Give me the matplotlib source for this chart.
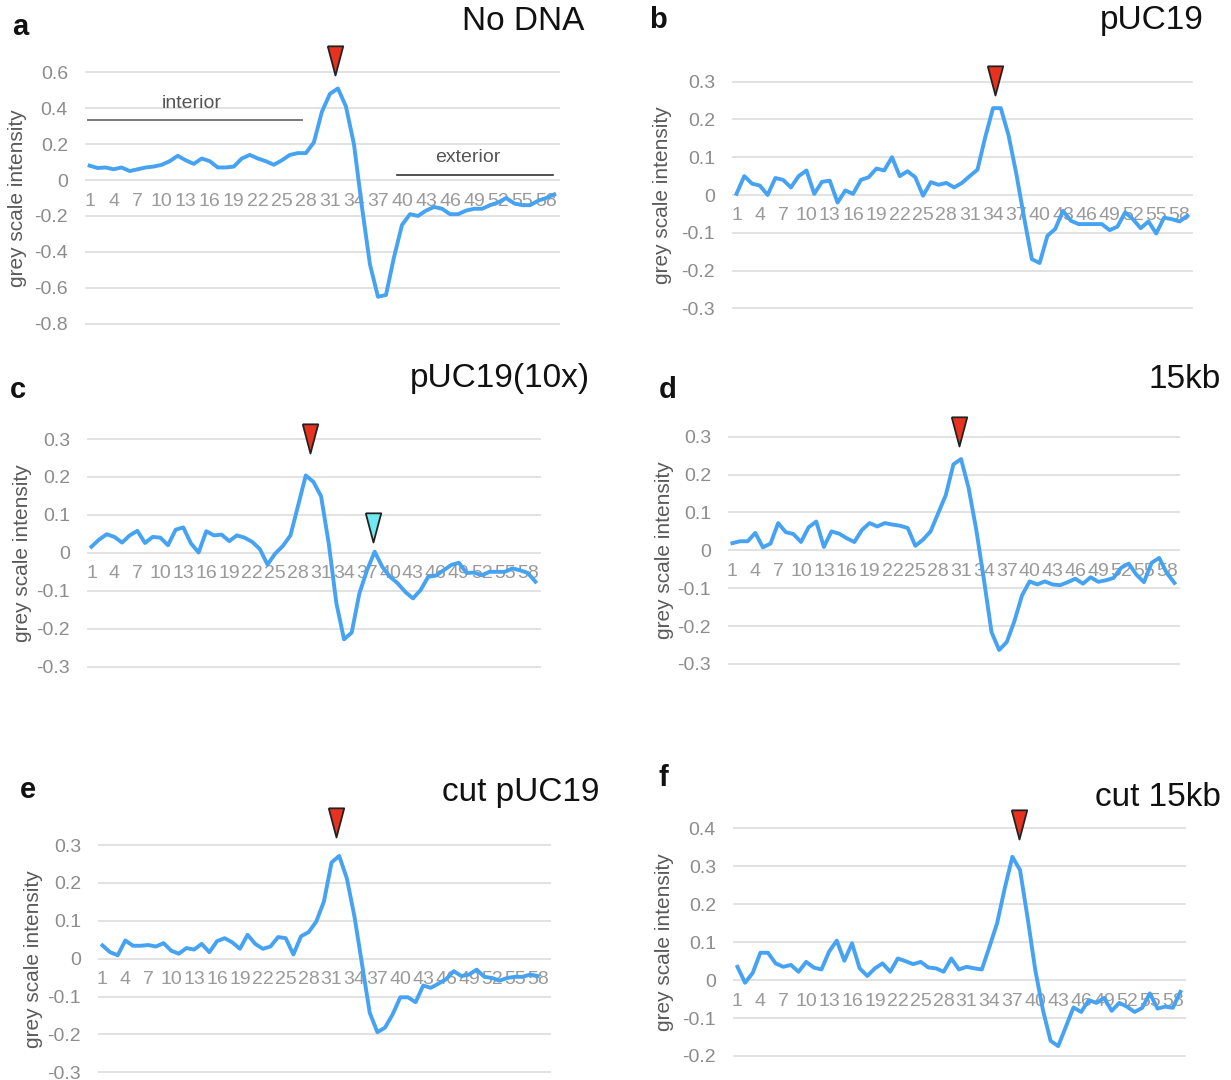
import matplotlib
matplotlib.use('Agg')
import matplotlib.pyplot as plt
import numpy as np

# perfiles de intensidad (59 posiciones, "cut pUC19" tiene 58)
no_dna = [0.08, 0.067, 0.07, 0.06, 0.07, 0.05, 0.06, 0.07, 0.075, 0.085,
          0.105, 0.135, 0.11, 0.09, 0.12, 0.105, 0.07, 0.07, 0.075, 0.12,
          0.14, 0.12, 0.105, 0.085, 0.11, 0.14, 0.15, 0.15, 0.21, 0.38,
          0.48, 0.51, 0.41, 0.2, -0.15, -0.47, -0.65, -0.64, -0.43, -0.25,
          -0.19, -0.2, -0.17, -0.15, -0.16, -0.19, -0.19, -0.17, -0.16, -0.16,
          -0.14, -0.125, -0.10, -0.13, -0.14, -0.14, -0.115, -0.10, -0.08]
puc19 = [0.003, 0.05, 0.03, 0.025, 0.0, 0.045, 0.04, 0.02, 0.05, 0.065,
         0.003, 0.035, 0.038, -0.02, 0.012, 0.003, 0.04, 0.047, 0.07, 0.065,
         0.1, 0.05, 0.063, 0.047, -0.002, 0.034, 0.027, 0.032, 0.02, 0.032,
         0.05, 0.067, 0.153, 0.23, 0.23, 0.158, 0.056, -0.06, -0.17, -0.18,
         -0.108, -0.09, -0.042, -0.068, -0.077, -0.077, -0.077, -0.077, -0.093, -0.084,
         -0.046, -0.064, -0.088, -0.07, -0.102, -0.06, -0.064, -0.07, -0.055]
puc19_10x = [0.016, 0.035, 0.049, 0.042, 0.027, 0.046, 0.058, 0.026, 0.042, 0.04,
             0.02, 0.061, 0.067, 0.025, 0.001, 0.057, 0.046, 0.048, 0.031, 0.046,
             0.04, 0.029, 0.01, -0.031, -0.002, 0.018, 0.046, 0.125, 0.204, 0.187,
             0.149, 0.025, -0.133, -0.228, -0.21, -0.107, -0.046, 0.003, -0.037, -0.063,
             -0.08, -0.103, -0.12, -0.098, -0.063, -0.06, -0.046, -0.032, -0.026, -0.053,
             -0.052, -0.059, -0.05, -0.05, -0.05, -0.041, -0.046, -0.053, -0.076]
kb15 = [0.019, 0.024, 0.024, 0.046, 0.008, 0.018, 0.072, 0.048, 0.043, 0.022,
        0.061, 0.076, 0.009, 0.05, 0.044, 0.032, 0.022, 0.054, 0.072, 0.063,
        0.072, 0.068, 0.065, 0.059, 0.012, 0.028, 0.05, 0.098, 0.146, 0.227,
        0.241, 0.164, 0.054, -0.077, -0.216, -0.263, -0.242, -0.187, -0.119, -0.082,
        -0.09, -0.082, -0.09, -0.092, -0.084, -0.075, -0.088, -0.071, -0.083, -0.079,
        -0.073, -0.046, -0.035, -0.064, -0.084, -0.033, -0.02, -0.06, -0.086]
cut_puc19 = [0.035, 0.017, 0.009, 0.048, 0.034, 0.034, 0.036, 0.032, 0.041, 0.021,
             0.013, 0.028, 0.024, 0.039, 0.017, 0.046, 0.054, 0.043, 0.026, 0.063,
             0.039, 0.026, 0.032, 0.057, 0.054, 0.011, 0.059, 0.07, 0.098, 0.151,
             0.254, 0.271, 0.212, 0.111, -0.016, -0.143, -0.194, -0.182, -0.147, -0.102,
             -0.102, -0.115, -0.071, -0.077, -0.066, -0.054, -0.033, -0.046, -0.042, -0.029,
             -0.048, -0.051, -0.058, -0.051, -0.048, -0.048, -0.042, -0.046]
cut_15kb = [0.035, -0.007, 0.019, 0.072, 0.072, 0.044, 0.035, 0.04, 0.022, 0.048,
            0.033, 0.028, 0.075, 0.104, 0.051, 0.097, 0.031, 0.011, 0.031, 0.044,
            0.022, 0.057, 0.05, 0.042, 0.048, 0.033, 0.031, 0.022, 0.057, 0.028,
            0.035, 0.031, 0.028, 0.088, 0.15, 0.242, 0.325, 0.29, 0.163, 0.026,
            -0.079, -0.16, -0.174, -0.123, -0.072, -0.084, -0.053, -0.06, -0.047, -0.081,
            -0.06, -0.07, -0.084, -0.073, -0.035, -0.075, -0.07, -0.073, -0.031]

titles = ['No DNA', 'pUC19', 'pUC19(10x)', '15kb', 'cut pUC19', 'cut 15kb']
letters = ['a', 'b', 'c', 'd', 'e', 'f']
x_tick_pos = list(range(1, 59, 3))
yticks_a = [-0.8, -0.6, -0.4, -0.2, 0, 0.2, 0.4, 0.6]
yticks_03 = [-0.3, -0.2, -0.1, 0, 0.1, 0.2, 0.3]
yticks_f = [-0.2, -0.1, 0, 0.1, 0.2, 0.3, 0.4]

# flechas (posicion x, punta y, color)
arrows = [
    [(31.6, 0.585, '#E8321F')],
    [(34.3, 0.266, '#E8321F')],
    [(29.6, 0.263, '#E8321F'), (37.8, 0.029, '#6FEAF2')],
    [(30.7, 0.275, '#E8321F')],
    [(31.6, 0.32, '#E8321F')],
    [(37.8, 0.371, '#E8321F')],
]

plt.rcParams['font.family'] = ['Liberation Sans', 'DejaVu Sans']
plt.rcParams['axes.unicode_minus'] = False

W, H = 1231, 1080
fig = plt.figure(figsize=(W / 100, H / 100), dpi=100)

LINE = '#46A2F2'
TRI = [(-0.53, 2.0), (0.53, 2.0), (0.0, 0.0), (-0.53, 2.0)]


def ftext(x, y, s, **kw):
    fig.text(x / W, 1 - y / H, s, **kw)


def panel(data, rect, yticks, ylab_dx):
    left, right, top, bottom = rect
    ax = fig.add_axes([left / W, 1 - bottom / H, (right - left) / W, (bottom - top) / H])
    x = np.arange(1, len(data) + 1)
    ax.plot(x, data, color=LINE, lw=2.8, solid_joinstyle='round', zorder=3, clip_on=False)
    ax.set_xlim(0.55, 59.6)
    ax.set_ylim(yticks[0], yticks[-1])
    for v in yticks:
        ax.axhline(v, color='#E2E2E2', lw=1.4, zorder=1, clip_on=False)
    ax.set_yticks(yticks)
    ax.set_yticklabels([f'{v:g}' for v in yticks])
    ax.set_xticks(x_tick_pos)
    ax.set_xticklabels([str(t) for t in x_tick_pos])
    for s in ['top', 'right', 'left', 'bottom']:
        ax.spines[s].set_visible(False)
    ax.spines['bottom'].set_position(('data', 0))
    ax.tick_params(axis='x', length=0, pad=9, labelsize=14, labelcolor='#9A9A9A')
    ax.tick_params(axis='y', length=0, pad=13, labelsize=14, labelcolor='#8C8C8C')
    ax.set_ylabel('grey scale intensity', fontsize=15, color='#5A5A5A', va='center')
    ax.yaxis.set_label_coords(ylab_dx / (right - left), 0.5)
    ax.set_facecolor('none')
    return ax


# rectangulos en pixeles: izquierda, derecha, arriba, abajo
rects = [(86, 559, 72.3, 323.7), (733, 1192, 81.7, 308.3),
         (88, 540, 439, 666.7), (729, 1179, 436.7, 664),
         (99, 550, 845, 1072.3), (734, 1185, 828.3, 1056)]
series = [no_dna, puc19, puc19_10x, kb15, cut_puc19, cut_15kb]
ytick_sets = [yticks_a, yticks_03, yticks_03, yticks_03, yticks_03, yticks_f]
ylab_dx = [-68, -71, -65, -65, -65, -70]

axes = []
for i in range(6):
    ax = panel(series[i], rects[i], ytick_sets[i], ylab_dx[i])
    for (mx, my, mc) in arrows[i]:
        ax.plot([mx], [my], marker=TRI, ms=42, mfc=mc, mec='#222222', mew=1.3,
                ls='none', clip_on=False, zorder=6)
    axes.append(ax)

# anotaciones del panel a
ax = axes[0]
ax.plot([0.8, 27.5], [0.334, 0.334], color='#7A7A7A', lw=1.4, zorder=2, clip_on=False)
ax.text(13.7, 0.424, 'interior', fontsize=14, color='#555555', ha='center', va='center')
ax.plot([39.4, 58.8], [0.028, 0.028], color='#333333', lw=1.2, zorder=2, clip_on=False)
ax.text(48.2, 0.128, 'exterior', fontsize=14, color='#555555', ha='center', va='center')

# letras y titulos
letter_pos = [(20, 27), (658, 20), (18, 390), (668, 390), (28, 790), (663, 778)]
title_pos = [(584, 22), (1204, 20), (590, 378), (1221, 380), (599, 792), (1221, 797)]
for i in range(6):
    ftext(letter_pos[i][0], letter_pos[i][1], letters[i], fontsize=21, fontweight='bold',
          ha='center', va='center', color='#111111')
    ftext(title_pos[i][0], title_pos[i][1], titles[i], fontsize=24,
          ha='right', va='center', color='#111111')

fig.savefig('out.png', dpi=100, facecolor='white')
